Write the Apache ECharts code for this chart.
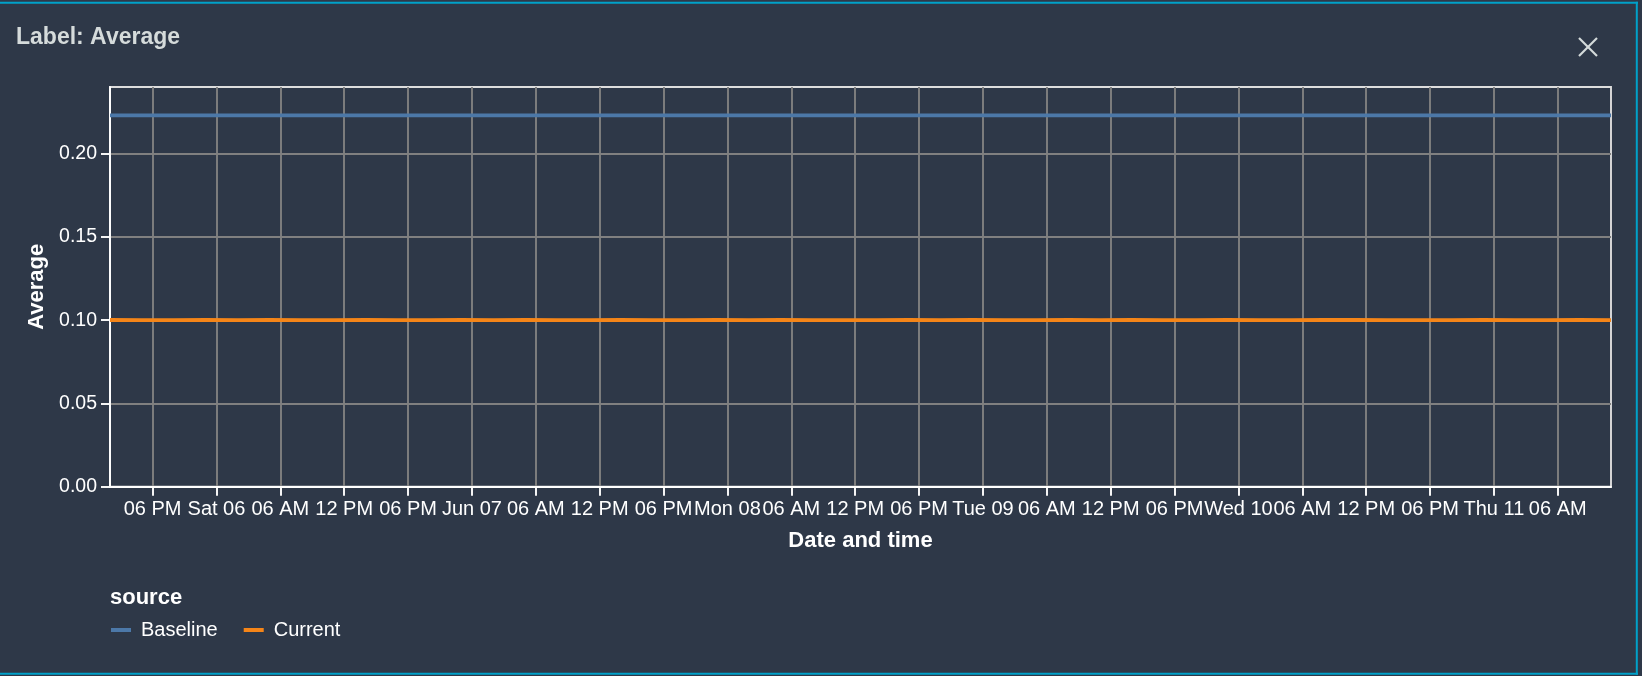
<!DOCTYPE html>
<html>
<head>
<meta charset="utf-8">
<script src="https://cdn.jsdelivr.net/npm/echarts@6/dist/echarts.min.js"></script>
<style>
html,body{margin:0;padding:0;background:#2e3848;}
#chart{width:1642px;height:676px;}
</style>
</head>
<body>
<div id="chart"></div>
<script>
// Hours since Fri Jun 05 2020 00:00
const hours = [14,17,20,23,26,29,32,35,38,41,44,47,50,53,56,59,62,65,68,71,74,77,80,83,86,89,92,95,98,101,104,107,110,113,116,119,122,125,128,131,134,137,140,143,146,149,152,155];
const baselineValues = [0.223,0.223,0.223,0.223,0.223,0.223,0.223,0.223,0.223,0.223,0.223,0.223,0.223,0.223,0.223,0.223,0.223,0.223,0.223,0.223,0.223,0.223,0.223,0.223,0.223,0.223,0.223,0.223,0.223,0.223,0.223,0.223,0.223,0.223,0.223,0.223,0.223,0.223,0.223,0.223,0.223,0.223,0.223,0.223,0.223,0.223,0.223,0.223];
const currentValues = [0.1001,0.1000,0.1000,0.1001,0.1000,0.1001,0.1000,0.1000,0.1001,0.1000,0.1000,0.1001,0.1000,0.1001,0.1000,0.1000,0.1001,0.1000,0.1000,0.1001,0.1000,0.1001,0.1000,0.1000,0.1000,0.1001,0.1000,0.1001,0.1000,0.1000,0.1001,0.1000,0.1001,0.1000,0.1000,0.1001,0.1000,0.1000,0.1001,0.1001,0.1000,0.1000,0.1000,0.1001,0.1000,0.1000,0.1001,0.1000];
const tickHours = [18,24,30,36,42,48,54,60,66,72,78,84,90,96,102,108,114,120,126,132,138,144,150];
const tickLabels = ['06 PM','Sat 06','06 AM','12 PM','06 PM','Jun 07','06 AM','12 PM','06 PM','Mon 08','06 AM','12 PM','06 PM','Tue 09','06 AM','12 PM','06 PM','Wed 10','06 AM','12 PM','06 PM','Thu 11','06 AM'];
const yTicks = [0,0.05,0.10,0.15,0.20];
const seriesNames = ['Baseline','Current'];
const seriesColors = ['#4c78a8','#f58518'];

const FONT = '"Liberation Sans", Arial, Helvetica, sans-serif';
const chart = echarts.init(document.getElementById('chart'), null, {renderer:'canvas'});

const pair = (vals) => hours.map((h,i) => [h, vals[i]]);

chart.setOption({
  backgroundColor: '#2e3848',
  animation: false,
  title: [
    {text: 'Label: Average', left: 16, top: 26, padding: 0,
     textStyle: {color:'#d5dbdb', fontSize: 23, fontWeight: 'bold', fontFamily: FONT}},
    {text: 'source', left: 110, top: 587, padding: 0,
     textStyle: {color:'#ffffff', fontSize: 22, fontWeight: 'bold', fontFamily: FONT}}
  ],
  grid: {left: 110, right: 31, top: 87, bottom: 189.3, show: true, borderColor: '#dddddd', borderWidth: 1.9, backgroundColor: 'transparent'},
  legend: {
    left: 111, top: 620, padding: 0, itemGap: 26, itemWidth: 20, itemHeight: 4,
    data: seriesNames.map((n,i) => ({name: n, icon: 'rect', itemStyle: {color: seriesColors[i]}})),
    textStyle: {color:'#ffffff', fontSize: 20, fontFamily: FONT, padding: [0,0,0,5]}
  },
  xAxis: {
    type: 'value', min: 14, max: 155,
    name: 'Date and time', nameLocation: 'middle', nameGap: 43,
    nameTextStyle: {color:'#ffffff', fontSize: 22, fontWeight: 'bold', fontFamily: FONT},
    axisLine: {show: true, lineStyle: {color:'#ffffff', width: 1.9}},
    axisTick: {show: true, length: 9, customValues: tickHours, lineStyle: {color:'#ffffff', width: 1.9}},
    axisLabel: {customValues: tickHours, margin: 13, color:'#ffffff', fontSize: 20, fontFamily: FONT,
      formatter: (v) => { const i = tickHours.indexOf(Math.round(v)); return i >= 0 ? tickLabels[i] : ''; }},
    splitLine: {show: true, lineStyle: {color:'#808080', width: 1.9}}
  },
  yAxis: {
    type: 'value', min: 0, max: 0.24,
    name: 'Average', nameLocation: 'middle', nameGap: 59,
    nameTextStyle: {color:'#ffffff', fontSize: 22, fontWeight: 'bold', fontFamily: FONT},
    axisLine: {show: true, lineStyle: {color:'#ffffff', width: 1.9}},
    axisTick: {show: true, length: 9, customValues: yTicks, lineStyle: {color:'#ffffff', width: 1.9}},
    axisLabel: {customValues: yTicks, margin: 13, color:'#ffffff', fontSize: 19.5, fontFamily: FONT,
      formatter: (v) => v.toFixed(2)},
    splitLine: {show: true, lineStyle: {color:'#808080', width: 1.9}}
  },
  series: seriesNames.map((n,i) => ({
    name: n, type: 'line', showSymbol: false, symbol: 'none',
    data: pair(i === 0 ? baselineValues : currentValues),
    lineStyle: {color: seriesColors[i], width: 3.8},
    itemStyle: {color: seriesColors[i]}
  })),
  graphic: [
    {type:'line', shape:{x1:0, y1:2.7, x2:1638, y2:2.7}, style:{stroke:'#00a1c9', lineWidth:2}},
    {type:'line', shape:{x1:1636.8, y1:1.7, x2:1636.8, y2:674.8}, style:{stroke:'#00a1c9', lineWidth:2}},
    {type:'line', shape:{x1:0, y1:673.8, x2:1638, y2:673.8}, style:{stroke:'#00a1c9', lineWidth:2}},
    {type:'line', shape:{x1:1579, y1:38, x2:1597, y2:56}, style:{stroke:'#d5dbdb', lineWidth:2.2}},
    {type:'line', shape:{x1:1597, y1:38, x2:1579, y2:56}, style:{stroke:'#d5dbdb', lineWidth:2.2}}
  ]
});
</script>
</body>
</html>
